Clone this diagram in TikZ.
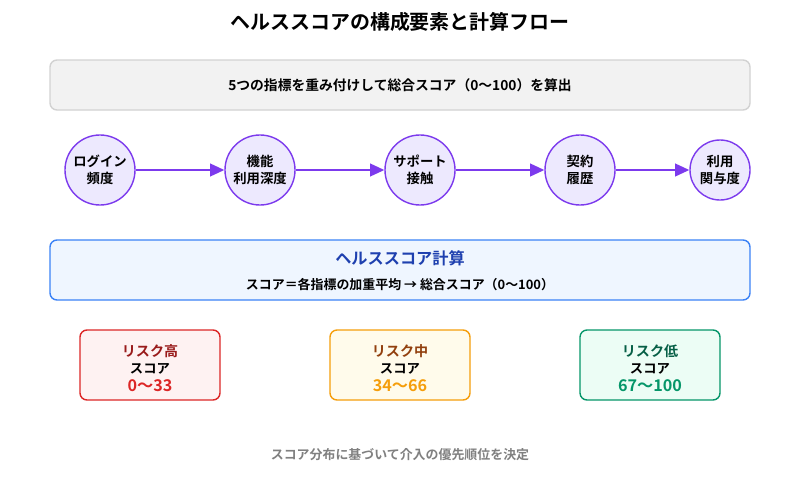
\documentclass[tikz,border=0pt]{standalone}
\usepackage{fontspec}
\setmainfont{Noto Sans CJK JP}[BoldFont={* Bold}]
\usetikzlibrary{arrows.meta}
\definecolor{violet}{HTML}{7C3AED}
\definecolor{violetbg}{HTML}{EDE9FE}
\definecolor{bluebd}{HTML}{3B82F6}
\definecolor{bluebg}{HTML}{EFF6FF}
\definecolor{bluetx}{HTML}{1E40AF}
\definecolor{redbd}{HTML}{DC2626}
\definecolor{redbg}{HTML}{FEF2F2}
\definecolor{redtx}{HTML}{991B1B}
\definecolor{ambbd}{HTML}{F59E0B}
\definecolor{ambbg}{HTML}{FFFBEB}
\definecolor{ambtx}{HTML}{92400E}
\definecolor{grnbd}{HTML}{059669}
\definecolor{grnbg}{HTML}{ECFDF5}
\definecolor{grntx}{HTML}{065F46}
\tikzset{
  metric/.style={circle, draw=violet, fill=violetbg, line width=1pt, align=center,
    font=\bfseries\fontsize{9.5}{12.5}\selectfont, inner sep=0pt, minimum size=1.75cm},
  flow/.style={draw=violet, line width=1.2pt, -{Triangle[length=10pt,width=9pt]}},
  panel/.style={draw, rounded corners=5pt, line width=1pt},
}
\begin{document}
\begin{tikzpicture}[x=0.025cm, y=-0.025cm]
  \useasboundingbox (0,0) rectangle (800,500);
  % title
  \node[font=\bfseries\fontsize{14.2}{17}\selectfont] (title) at (400,22) {ヘルススコアの構成要素と計算フロー};
  % summary box
  \draw[panel, draw=gray!35, fill=gray!10] (50,60) rectangle (750,110);
  \node[font=\bfseries\fontsize{9.8}{12}\selectfont] (summary) at (400,85) {5つの指標を重み付けして総合スコア（0〜100）を算出};
  % metrics
  \node[metric] (login) at (100,170) {ログイン\\頻度};
  \node[metric] (feature) at (260,170) {機能\\利用深度};
  \node[metric] (support) at (420,170) {サポート\\接触};
  \node[metric] (contract) at (580,170) {契約\\履歴};
  \node[metric, minimum size=1.5cm] (involve) at (720,170) {利用\\関与度};
  \foreach \a/\b in {login/feature, feature/support, support/contract, contract/involve}
    \draw[flow] (\a) -- (\b);
  % calculation
  \draw[panel, draw=bluebd, fill=bluebg] (50,240) rectangle (750,300);
  \node[font=\bfseries\fontsize{11.5}{14}\selectfont, text=bluetx] (calc) at (400,258) {ヘルススコア計算};
  \node[font=\bfseries\fontsize{9.2}{11}\selectfont] (formula) at (400,285) {スコア＝各指標の加重平均 → 総合スコア（0〜100）};
  % risk levels
  \foreach \x/\bd/\bg/\tx/\lab/\rng/\nm in {150/redbd/redbg/redtx/高/0〜33/high, 400/ambbd/ambbg/ambtx/中/34〜66/mid, 650/grnbd/grnbg/grntx/低/67〜100/low} {
    \draw[panel, draw=\bd, fill=\bg] (\x-70,330) rectangle (\x+70,400);
    \node[font=\bfseries\fontsize{10}{12}\selectfont, text=\tx] (\nm-head) at (\x,351) {リスク\lab};
    \node[font=\bfseries\fontsize{9.5}{11}\selectfont] (\nm-score) at (\x,369) {スコア};
    \node[font=\bfseries\fontsize{11.5}{13}\selectfont, text=\bd] (\nm-range) at (\x,386) {\rng};
  }
  % footer
  \node[font=\bfseries\fontsize{9.2}{11}\selectfont, text=gray] (note) at (400,455) {スコア分布に基づいて介入の優先順位を決定};
\end{tikzpicture}
\end{document}
